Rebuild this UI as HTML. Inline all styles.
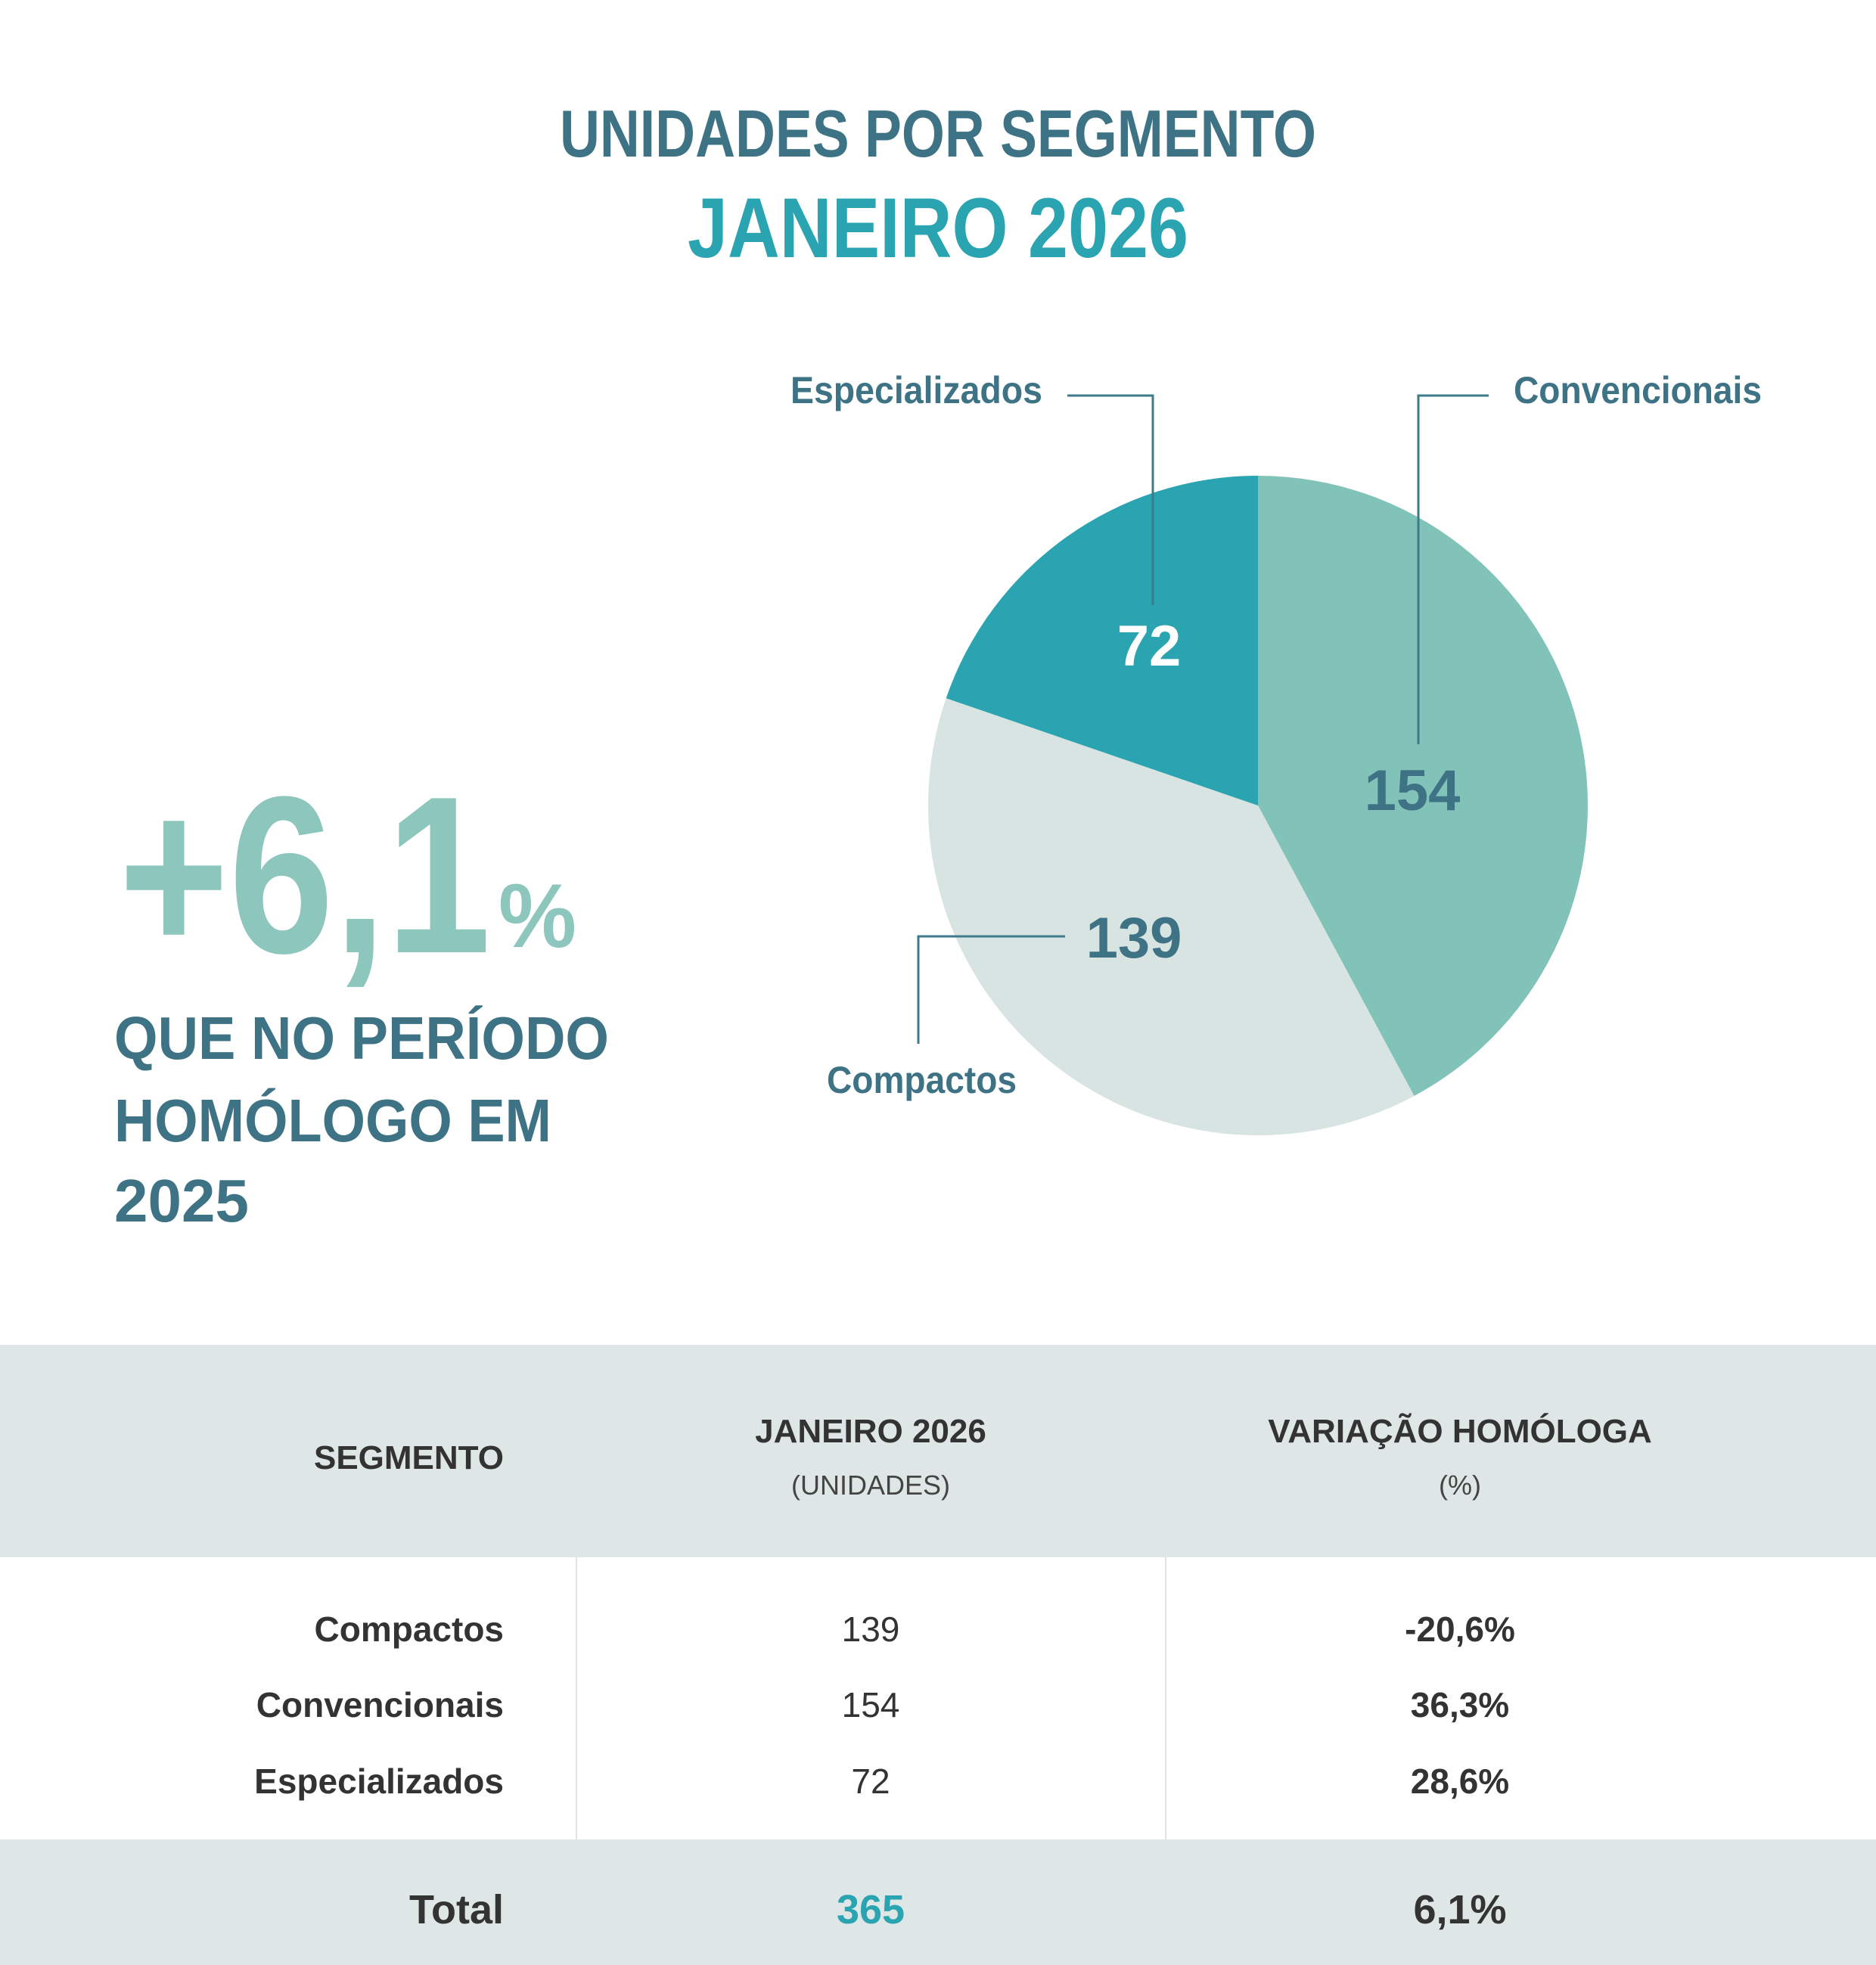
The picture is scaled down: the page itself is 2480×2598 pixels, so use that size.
<!DOCTYPE html>
<html><head><meta charset="utf-8"><style>
html,body{margin:0;padding:0;background:#fff;}
svg{display:block;}
text{font-family:"Liberation Sans",sans-serif;}
</style></head><body>
<svg width="2480" height="2598" viewBox="0 0 2480 2598" xmlns="http://www.w3.org/2000/svg">
<rect width="2480" height="2598" fill="#fff"/>
<text x="1240" y="207" text-anchor="middle" font-size="88" font-weight="bold" fill="#3e7385" textLength="1000" lengthAdjust="spacingAndGlyphs">UNIDADES POR SEGMENTO</text>
<text x="1240" y="340" text-anchor="middle" font-size="112" font-weight="bold" fill="#2aa4b0" textLength="662" lengthAdjust="spacingAndGlyphs">JANEIRO 2026</text>

<g transform="translate(1663,1065)">
<path d="M0,0 L0,-436 A436,436 0 0,1 206.5,384.0 Z" fill="#82c3b9"/>
<path d="M0,0 L206.5,384.0 A436,436 0 0,1 -412.3,-141.9 Z" fill="#d8e4e2"/>
<path d="M0,0 L-412.3,-141.9 A436,436 0 0,1 0,-436 Z" fill="#2aa4b0"/>
</g>
<g fill="none" stroke="#3d7a8a" stroke-width="3">
<polyline points="1411,523 1524,523 1524,800"/>
<polyline points="1968,523 1875,523 1875,984"/>
<polyline points="1408,1238 1214,1238 1214,1380"/>
</g>
<g font-size="50" font-weight="bold" fill="#3e7385">
<text x="1045" y="533" textLength="333" lengthAdjust="spacingAndGlyphs">Especializados</text>
<text x="2001" y="533" textLength="328" lengthAdjust="spacingAndGlyphs">Convencionais</text>
<text x="1093" y="1445" textLength="251" lengthAdjust="spacingAndGlyphs">Compactos</text>
</g>
<g font-size="76" font-weight="bold" text-anchor="middle">
<text x="1519" y="880" fill="#fff">72</text>
<text x="1867" y="1071" fill="#3e7385">154</text>
<text x="1499" y="1266" fill="#3e7385">139</text>
</g>

<text x="157" y="1259" font-size="296" font-weight="bold" fill="#8cc6bd" textLength="492" lengthAdjust="spacingAndGlyphs">+6,1</text>
<text x="659" y="1252" font-size="120" font-weight="bold" fill="#8cc6bd" textLength="103" lengthAdjust="spacingAndGlyphs">%</text>
<g font-size="80" font-weight="bold" fill="#3e7385">
<text x="151" y="1400" textLength="654" lengthAdjust="spacingAndGlyphs">QUE NO PERÍODO</text>
<text x="151" y="1509" textLength="578" lengthAdjust="spacingAndGlyphs">HOMÓLOGO EM</text>
<text x="151" y="1615" textLength="178" lengthAdjust="spacingAndGlyphs">2025</text>
</g>

<rect x="0" y="1778" width="2480" height="281" fill="#dfe7e6"/>
<rect x="0" y="2432" width="2480" height="166" fill="#dfe7e6"/>
<line x1="762" y1="2059" x2="762" y2="2432" stroke="#e3e3e3" stroke-width="2"/>
<line x1="1541" y1="2059" x2="1541" y2="2432" stroke="#e3e3e3" stroke-width="2"/>
<g fill="#333" font-weight="bold" font-size="44">
<text x="666" y="1942" text-anchor="end">SEGMENTO</text>
<text x="1151" y="1907" text-anchor="middle">JANEIRO 2026</text>
<text x="1930" y="1907" text-anchor="middle">VARIAÇÃO HOMÓLOGA</text>
</g>
<g fill="#444" font-size="36" text-anchor="middle">
<text x="1151" y="1976">(UNIDADES)</text>
<text x="1930" y="1976">(%)</text>
</g>
<g fill="#333" font-size="46">
<text x="666" y="2170" text-anchor="end" font-weight="bold">Compactos</text>
<text x="666" y="2270" text-anchor="end" font-weight="bold">Convencionais</text>
<text x="666" y="2371" text-anchor="end" font-weight="bold">Especializados</text>
<text x="1151" y="2170" text-anchor="middle">139</text>
<text x="1151" y="2270" text-anchor="middle">154</text>
<text x="1151" y="2371" text-anchor="middle">72</text>
<text x="1930" y="2170" text-anchor="middle" font-weight="bold">-20,6%</text>
<text x="1930" y="2270" text-anchor="middle" font-weight="bold">36,3%</text>
<text x="1930" y="2371" text-anchor="middle" font-weight="bold">28,6%</text>
</g>
<g font-size="54" font-weight="bold">
<text x="666" y="2543" text-anchor="end" fill="#333">Total</text>
<text x="1151" y="2543" text-anchor="middle" fill="#2aa4b0">365</text>
<text x="1930" y="2543" text-anchor="middle" fill="#333">6,1%</text>
</g>
</svg>
</body></html>
